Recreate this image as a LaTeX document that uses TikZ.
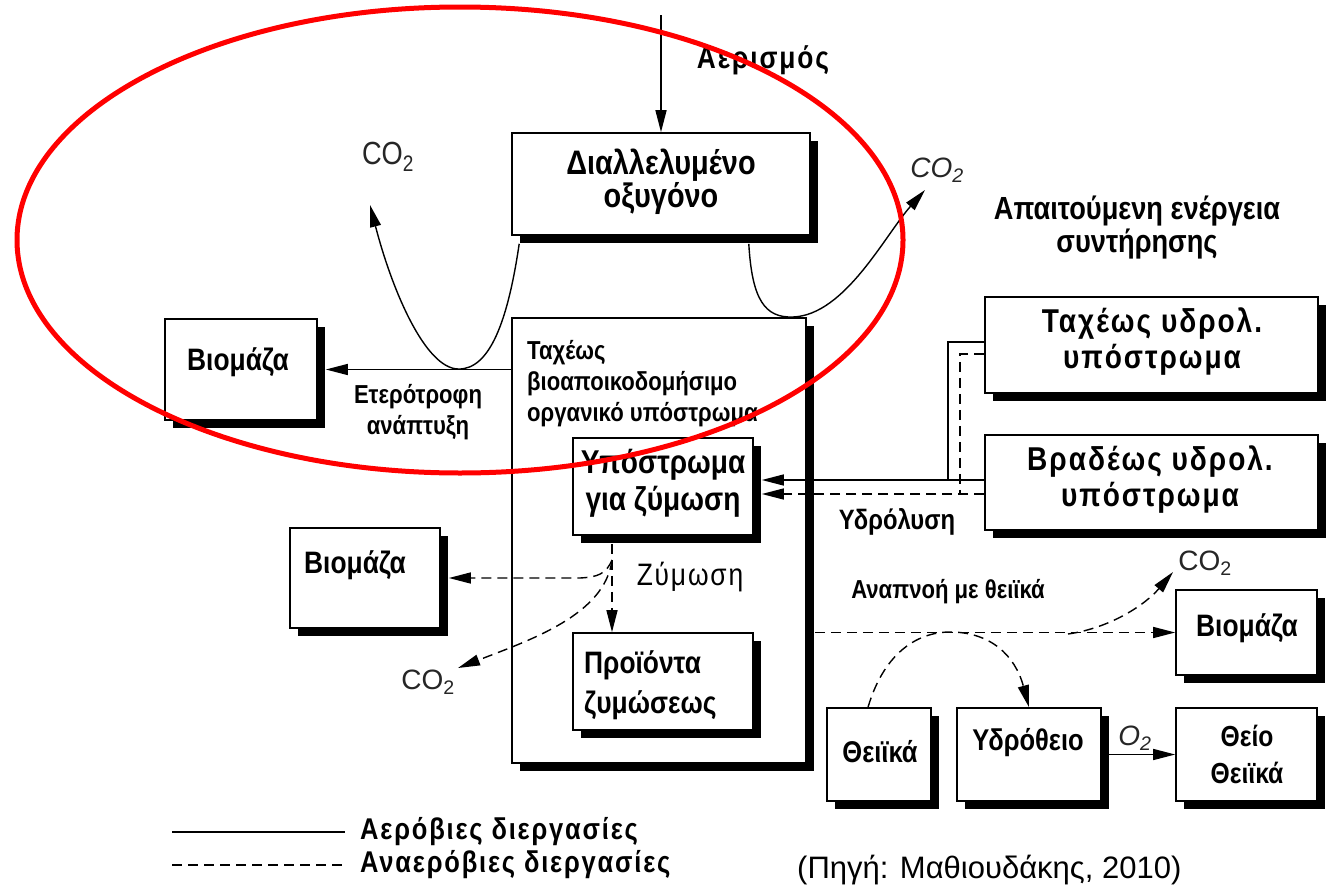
\documentclass[tikz,border=0pt]{standalone}
\usepackage{fontspec}
\setmainfont{Liberation Sans}
\newfontfamily\gf[FakeStretch=0.85]{Liberation Sans}
\newfontfamily\gw[FakeStretch=0.85,LetterSpace=6]{Liberation Sans}
\usetikzlibrary{arrows.meta,shadows,calc}
\newcommand\fs[2]{\fontsize{#1pt}{#2pt}\selectfont}
\begin{document}
\begin{tikzpicture}[x=1pt,y=-1pt,
  shbox/.style={draw, line width=1.6pt, fill=white, inner sep=0pt,
    drop shadow={shadow xshift=8pt, shadow yshift=-8pt, opacity=1, fill=black}},
  lbl/.style={inner sep=0pt, font=\gf\bfseries\fs{30}{33}},
  aer/.style={line width=1.4pt},
  ana/.style={line width=1.4pt, dash pattern=on 10pt off 6pt},
  arr/.style={-{Triangle[length=22pt,width=11pt]}},
  gas/.style={inner sep=0pt, text=black!85}
]
\useasboundingbox[fill=white] (0,0) rectangle (1330,886);

% ---- boxes ----
\node[shbox, minimum width=298pt, minimum height=102pt] (oxy)  at (661,184)    {};
\node[shbox, minimum width=152pt, minimum height=101pt] (bio1) at (241,369.5)  {};
\node[shbox, minimum width=294pt, minimum height=445pt] (sub)  at (659,540.5)  {};
\node[shbox, minimum width=180pt, minimum height=97pt]  (ferm) at (663,486.5)  {};
\node[shbox, minimum width=180pt, minimum height=97pt]  (prod) at (663,681.5)  {};
\node[shbox, minimum width=333pt, minimum height=96pt]  (fast) at (1151.5,345) {};
\node[shbox, minimum width=333pt, minimum height=95pt]  (slow) at (1151.5,482.5) {};
\node[shbox, minimum width=150pt, minimum height=100pt] (bio2) at (365,578)    {};
\node[shbox, minimum width=141pt, minimum height=85pt]  (bio3) at (1246.5,632.5) {};
\node[shbox, minimum width=104pt, minimum height=93pt]  (sulf) at (879,754.5)  {};
\node[shbox, minimum width=144pt, minimum height=93pt]  (hs)   at (1029,754.5) {};
\node[shbox, minimum width=141pt, minimum height=93pt]  (thio) at (1246.5,754.5) {};

% ---- texts ----
\node[lbl, font=\gw\bfseries\fs{31}{33}] (taer) at (763,60) {Αερισμός};
\node[lbl, align=center, font=\gf\bfseries\fs{34}{33}] (toxy) at (661,182) {Διαλλελυμένο\\οξυγόνο};
\node[gas, font=\gf\fs{32}{32}] (co2a) at (388,157) {CO\textsubscript{2}};
\node[gas, font=\itshape\fs{28}{28}] (co2b) at (937,170) {CO\textsubscript{2}};
\node[lbl, align=center, font=\gf\bfseries\fs{32}{33}] (tmain) at (1137,228) {Απαιτούμενη ενέργεια\\συντήρησης};
\node[lbl, font=\gf\bfseries\fs{31}{33}] (tbio1) at (238,362) {Βιομάζα};
\node[lbl, align=center, font=\gf\bfseries\fs{26}{31}] (thet) at (418,412) {Ετερότροφη\\ανάπτυξη};
\node[lbl, align=left, anchor=west, font=\gf\bfseries\fs{26}{31}] (tsub) at (527,384) {Ταχέως\\βιοαποικοδομήσιμο\\οργανικό υπόστρωμα};
\node[lbl, align=center, font=\gf\bfseries\fs{33}{37}] (tferm) at (663,483) {Υπόστρωμα\\για ζύμωση};
\node[lbl, align=center, font=\gw\bfseries\fs{33}{36}] (tfast) at (1152,342) {Ταχέως υδρολ.\\υπόστρωμα};
\node[lbl, align=center, font=\gw\bfseries\fs{33}{36}] (tslow) at (1150,480) {Βραδέως υδρολ.\\υπόστρωμα};
\node[lbl, font=\gf\bfseries\fs{28}{30}] (thyd) at (897,522) {Υδρόλυση};
\node[lbl, font=\gf\bfseries\fs{31}{33}] (tbio2) at (355,565) {Βιομάζα};
\node[lbl, font=\gw\fs{31}{33}] (tzym) at (690,577) {Ζύμωση};
\node[gas, font=\fs{28}{28}] (co2c) at (428,682) {CO\textsubscript{2}};
\node[lbl, align=left, anchor=west, font=\gf\bfseries\fs{31}{40}] (tprod) at (584,685) {Προϊόντα\\ζυμώσεως};
\node[lbl, font=\gf\bfseries\fs{26}{30}] (tresp) at (948,592) {Αναπνοή με θειϊκά};
\node[gas, font=\fs{28}{28}] (co2d) at (1205,563) {CO\textsubscript{2}};
\node[lbl, font=\gf\bfseries\fs{31}{33}] (tbio3) at (1247,628) {Βιομάζα};
\node[lbl, font=\gf\bfseries\fs{30}{33}] (tsulf) at (880,752) {Θειϊκά};
\node[lbl, font=\gf\bfseries\fs{30}{33}] (ths) at (1028,743) {Υδρόθειο};
\node[gas, font=\itshape\fs{28}{28}] (to2) at (1135,738) {O\textsubscript{2}};
\node[lbl, align=center, font=\gf\bfseries\fs{29}{37}] (tthio) at (1247,754) {Θείο\\Θειϊκά};

% ---- oxygen supply and aerobic growth ----
\coordinate (aerTop) at (661,15);
\draw[aer,arr] (aerTop) -- (oxy.north);
\coordinate (co2aTip) at (370,205);
\draw[aer,arr] ([xshift=8pt,yshift=-8pt]oxy.south west)
  .. controls (508,320) and (490,370) .. (458,369)
  .. controls (425,368) and (392,290) .. (co2aTip);
\coordinate (co2bTip) at (925,190);
\draw[aer,arr] ([xshift=-62pt,yshift=-8pt]oxy.south east)
  .. controls (752,300) and (765,318) .. (793,317)
  .. controls (845,315) and (885,235) .. (co2bTip);
\draw[aer,arr] (sub.west |- bio1.east) -- ([xshift=8pt]bio1.east);

% ---- hydrolysis ----
\coordinate (js) at (948,480);
\coordinate (jd) at (960,494);
\draw[aer] ([yshift=3pt]fast.west) -| (js);
\draw[aer,arr] (slow.west |- js) -- ([xshift=8pt]ferm.east |- js);
\draw[ana] ([yshift=-9pt]fast.west) -| (jd);
\draw[ana,arr] (slow.west |- jd) -- ([xshift=8pt]ferm.east |- jd);

% ---- fermentation ----
\coordinate (fx) at (612,0);
\coordinate (fz) at (612,560);
\coordinate (co2cTip) at (458,668);
\draw[ana,arr] ([yshift=-8pt]ferm.south -| fx) -- (prod.north -| fx);
\draw[ana,arr] (fz) .. controls (606,574) and (598,577) .. (580,578) -- ([xshift=8pt]bio2.east);
\draw[ana,arr] (fz) .. controls (605,615) and (530,640) .. (co2cTip);

% ---- sulfate respiration ----
\coordinate (sb) at (1068,634);
\coordinate (co2dTip) at (1173,572);
\draw[ana,arr] ([xshift=8pt]sub.east |- bio3.west) -- (bio3.west);
\draw[ana,arr] ([xshift=-11pt]sulf.north)
  .. controls (885,650) and (920,632) .. (950,632)
  .. controls (990,632) and (1015,655) .. (hs.north);
\draw[ana,arr] (sb) .. controls (1110,628) and (1145,605) .. (co2dTip);
\draw[aer,arr] (hs.east) -- (thio.west);

% ---- legend ----
\coordinate (l1a) at (172,832); \coordinate (l1b) at (345,832);
\coordinate (l2a) at (172,865); \coordinate (l2b) at (345,865);
\draw[aer] (l1a) -- (l1b);
\draw[ana] (l2a) -- (l2b);
\node[lbl, anchor=west, font=\gw\bfseries\fs{30}{30}] (leg1) at (360,832) {Αερόβιες διεργασίες};
\node[lbl, anchor=west, font=\gw\bfseries\fs{30}{30}] (leg2) at (360,865) {Αναερόβιες διεργασίες};

% ---- source ----
\node[inner sep=0pt, anchor=base west, font=\fs{31}{31}] (src) at (797,878) {(Πηγή: Μαθιουδάκης, 2010)};

% ---- highlight ----
\draw[red, line width=5pt] (460,240) ellipse [x radius=443pt, y radius=233pt];
\end{tikzpicture}
\end{document}
